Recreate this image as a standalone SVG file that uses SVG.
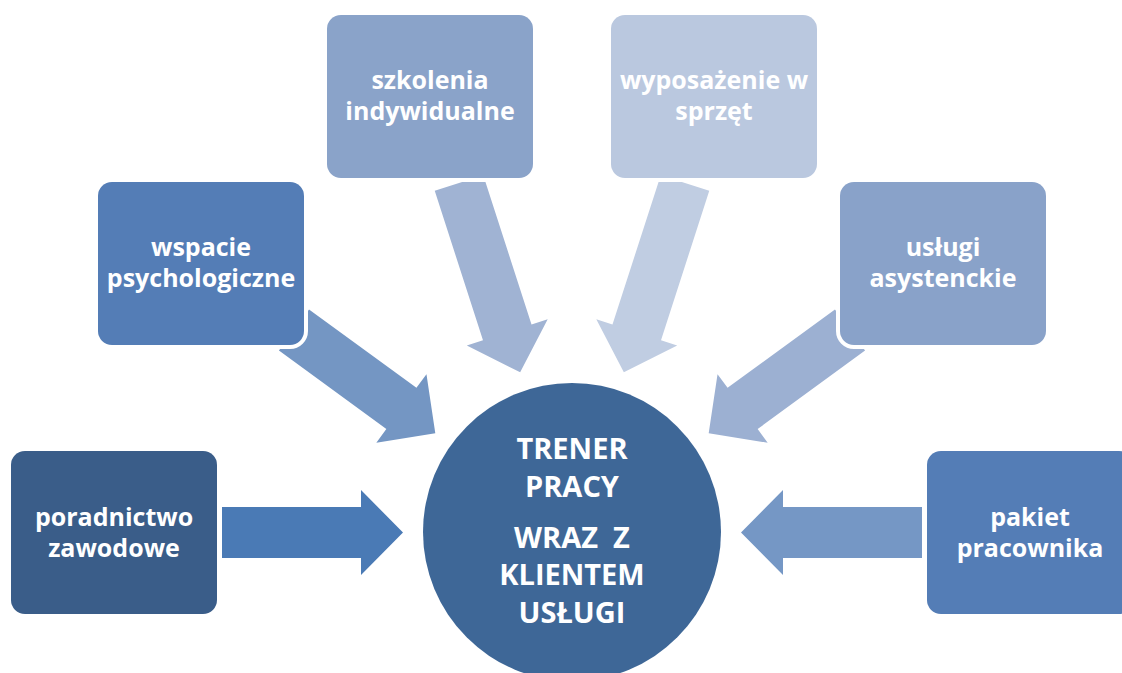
<svg xmlns="http://www.w3.org/2000/svg" width="1122" height="673" viewBox="0 0 1122 673">
<style>
.box{stroke:#fff;stroke-width:8;paint-order:stroke}
.lbl{font-family:"Open Sans","Liberation Sans",sans-serif;font-weight:700;font-size:25px;fill:#fff;text-anchor:middle}
.big{font-size:29px}
</style>
<defs>
<path id="a181" d="M0,-25.5 H139 V-42.5 L181,0 L139,42.5 V25.5 H0 Z"/>
<path id="a175" d="M0,-25.5 H133 V-42.5 L175,0 L133,42.5 V25.5 H0 Z"/>
<path id="a199" d="M0,-25.5 H157 V-42.5 L199,0 L157,42.5 V25.5 H0 Z"/>
</defs>
<rect width="1122" height="673" fill="#fff"/>
<g id="connectors">
<use href="#a181" transform="translate(222,532.5)" fill="#4a7ab5"/>
<use href="#a181" transform="translate(922,532.5) rotate(180)" fill="#7597c5"/>
<use href="#a175" transform="translate(294,330) rotate(36.15)" fill="#7496c3"/>
<use href="#a175" transform="translate(850,330) rotate(143.85)" fill="#9cb0d2"/>
<use href="#a199" transform="translate(459,183) rotate(72.1)" fill="#a0b3d3"/>
<use href="#a199" transform="translate(685,183) rotate(107.9)" fill="#c0cde2"/>
</g>
<g id="node-poradnictwo">
<rect class="box" x="11" y="451" width="206" height="163" rx="14" fill="#3a5d89"/>
<text class="lbl" x="114" y="526">poradnictwo</text>
<text class="lbl" x="114" y="557">zawodowe</text>
</g>
<g id="node-wspacie">
<rect class="box" x="98" y="182" width="206" height="163" rx="14" fill="#547db6"/>
<text class="lbl" x="201" y="256">wspacie</text>
<text class="lbl" x="201" y="287">psychologiczne</text>
</g>
<g id="node-szkolenia">
<rect class="box" x="327" y="15" width="206" height="163" rx="14" fill="#8aa3c9"/>
<text class="lbl" x="430" y="89">szkolenia</text>
<text class="lbl" x="430" y="120">indywidualne</text>
</g>
<g id="node-wyposazenie">
<rect class="box" x="611" y="15" width="206" height="163" rx="14" fill="#bac8df"/>
<text class="lbl" x="714" y="89">wyposażenie w</text>
<text class="lbl" x="714" y="120">sprzęt</text>
</g>
<g id="node-uslugi">
<rect class="box" x="840" y="182" width="206" height="163" rx="14" fill="#89a2c9"/>
<text class="lbl" x="943" y="256">usługi</text>
<text class="lbl" x="943" y="287">asystenckie</text>
</g>
<g id="node-pakiet">
<rect class="box" x="927" y="451" width="206" height="163" rx="14" fill="#547db6"/>
<text class="lbl" x="1030" y="526">pakiet</text>
<text class="lbl" x="1030" y="557">pracownika</text>
</g>
<g id="node-trener">
<circle cx="572" cy="532" r="149" fill="#3e6797"/>
<text class="lbl big" x="572" y="459">TRENER</text>
<text class="lbl big" x="572" y="497">PRACY</text>
<text class="lbl big" x="572" y="548" style="white-space:pre">WRAZ  Z</text>
<text class="lbl big" x="572" y="585">KLIENTEM</text>
<text class="lbl big" x="572" y="623">USŁUGI</text>
</g>
</svg>
